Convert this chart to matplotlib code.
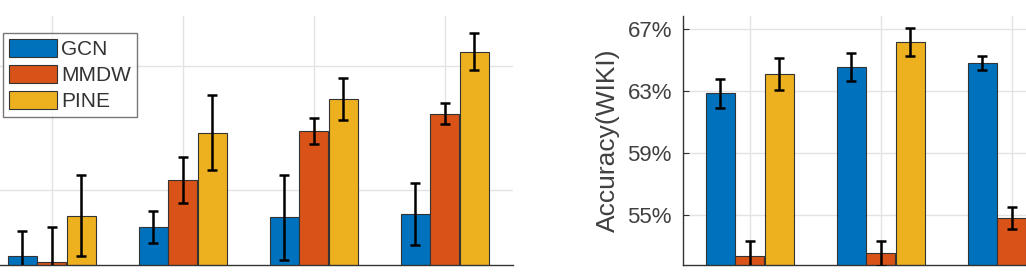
"""Grouped bar charts with error bars (GCN / MMDW / PINE), cropped view."""
import numpy as np
import matplotlib.pyplot as plt

plt.rcParams["font.family"] = ["Liberation Sans", "DejaVu Sans"]

methods = ["GCN", "MMDW", "PINE"]
colors = ["#0072BD", "#D95319", "#EDB120"]

# left panel (its y tick labels lie outside the crop)
left_groups = [1, 2, 3, 4]
left_ticks = [70, 75]
left_vals = {
    "GCN": [67.38, 68.52, 68.92, 69.06],
    "MMDW": [67.11, 70.43, 72.38, 73.09],
    "PINE": [68.99, 72.33, 73.68, 75.58],
}
left_err = {
    "GCN": [1.00, 0.64, 1.71, 1.24],
    "MMDW": [1.41, 0.93, 0.52, 0.43],
    "PINE": [1.63, 1.50, 0.84, 0.74],
}

# right panel, Accuracy(WIKI)
right_groups = [1, 2, 3]
right_ticks = [55, 59, 63, 67]
right_vals = {
    "GCN": [62.85, 64.53, 64.79],
    "MMDW": [52.37, 52.53, 54.79],
    "PINE": [64.10, 66.18, 66.40],
}
right_err = {
    "GCN": [0.93, 0.90, 0.45],
    "MMDW": [0.95, 0.80, 0.72],
    "PINE": [1.02, 0.90, 0.80],
}

W, H = 1026, 279
fig = plt.figure(figsize=(W / 100, H / 100), dpi=100)


def px_axes(x0, y_top, w, h):
    return fig.add_axes([x0 / W, (H - y_top - h) / H, w / W, h / H])


def draw(ax, groups, vals, errs, ylim, ticks):
    x = np.array(groups, dtype=float)
    bw = 0.222
    handles = []
    for i, m in enumerate(methods):
        xs = x + (i - 1) * 0.225
        b = ax.bar(xs, vals[m], width=bw, color=colors[i], edgecolor="#333333",
                   linewidth=0.8, zorder=2, label=m)
        handles.append(b)
        ax.errorbar(xs, vals[m], yerr=errs[m], fmt="none", ecolor="black",
                    elinewidth=1.8, capsize=3.3, capthick=1.8, zorder=3)
    ax.set_xlim(0.49, 4.52)
    ax.set_ylim(*ylim)
    ax.set_xticks([1, 2, 3, 4])
    ax.set_xticklabels([])
    ax.set_yticks(ticks)
    ax.grid(True, color="#e3e3e3", linewidth=1.0, zorder=0)
    ax.set_axisbelow(True)
    for s in ("top", "right"):
        ax.spines[s].set_visible(False)
    for s in ("left", "bottom"):
        ax.spines[s].set_color("#333333")
        ax.spines[s].set_linewidth(1.0)
    ax.tick_params(direction="in", length=4, color="#333333",
                   labelsize=16, labelcolor="#404040", pad=8)
    return handles


axL = px_axes(-15, 16, 528, 249)
hs = draw(axL, left_groups, left_vals, left_err, (67.0, 77.02), left_ticks)
axL.set_yticklabels([])
leg = axL.legend(hs, methods, loc="upper left",
                 bbox_to_anchor=(3 / W, (H - 33) / H),
                 bbox_transform=fig.transFigure, fontsize=15, frameon=True,
                 fancybox=False, handlelength=2.3, handleheight=0.96,
                 labelspacing=0.27, handletextpad=0.2, borderpad=0.3,
                 borderaxespad=0)
leg.get_frame().set_edgecolor("#555555")
leg.get_frame().set_linewidth(1.0)
for t in leg.get_texts():
    t.set_color("#333333")

axR = px_axes(683, 16, 528, 249)
draw(axR, right_groups, right_vals, right_err, (51.77, 67.84), right_ticks)
axR.set_yticklabels([f"{t}%" for t in right_ticks])
axR.set_ylabel("Accuracy(WIKI)", fontsize=19, color="#404040", labelpad=5)

fig.savefig("out.png", dpi=100)
